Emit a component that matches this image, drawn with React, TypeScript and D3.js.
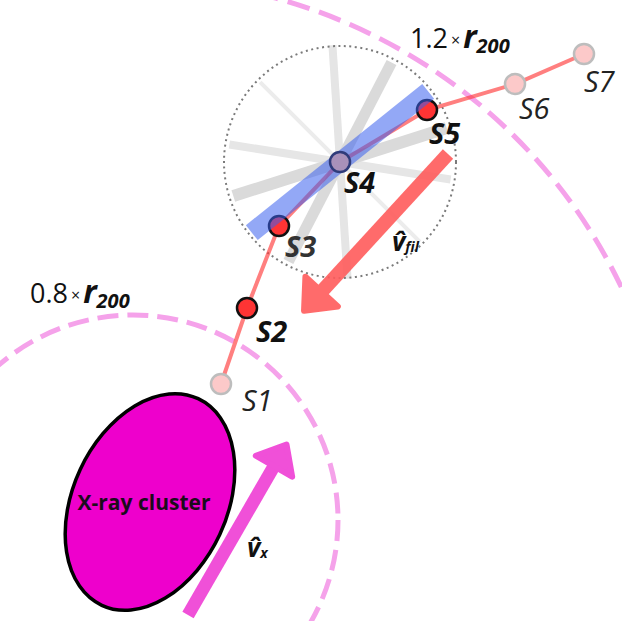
import React from "react";
import * as d3 from "d3";

// Sky-plane coordinates, cluster-centred, in units of 100 kpc-ish (y up).
const stationNames = ["S1", "S2", "S3", "S4", "S5", "S6", "S7"];
const stationX = [0.88, 1.14, 1.46, 2.07, 2.94, 3.82, 4.51];
const stationY = [1.36, 2.12, 2.94, 3.58, 4.1, 4.36, 4.66];
// "out" = outside the filament aperture, "fil" = inside, "mid" = aperture centre
const stationRole = ["out", "fil", "fil", "mid", "fil", "out", "out"];

// Shells around the cluster
const shellFactors = ["0.8", "1.2"];
const shellRadii = [2.05, 5.41];

// Candidate filament orientations tested around S4 (degrees, counter-clockwise)
const spokeAngles = [93.7, 62.6, 135, 171, 17.7];
const spokeHalfLength = [1.17, 1.12, 1.13, 1.12, 1.12];
const spokeWeights = [8, 11, 4, 8, 12];
const spokeShades = ["#e5e5e5", "#dadada", "#ececec", "#e6e6e6", "#dadada"];

// Best-fit filament axis and search aperture
const filamentAngle = 38.7;
const filamentHalfLength = 1.13;
const apertureRadius = 1.16;

// X-ray cluster footprint
const clusterCenter = [0.17, 0.18];
const clusterAxes = [1.14, 0.77];
const clusterTilt = 25;

// Unit vectors drawn as arrows: [tailX, tailY, tipX, tipY]
const filamentVector = [3.15, 3.66, 1.69, 2.07];
const clusterVector = [0.55, -0.95, 1.55, 0.78];

const W = 622;
const H = 621;
const FONT = "'Open Sans', 'Noto Sans', sans-serif";

const x = d3.scaleLinear().domain([-1.33, 4.89]).range([0, W]);
const y = d3.scaleLinear().domain([-1.01, 5.2]).range([H, 0]);
const unit = x(1) - x(0);

// label placement relative to each station marker (px)
const labelOffsets = [
  [21, 27],
  [9, 34],
  [6, 31],
  [4, 31],
  [2, 34],
  [4, 35],
  [0, 38],
];

function Arrow({ v, color, opacity, shaft, headLen, headHalf }) {
  const [x0, y0, x1, y1] = [x(v[0]), y(v[1]), x(v[2]), y(v[3])];
  const len = Math.hypot(x1 - x0, y1 - y0);
  const ux = (x1 - x0) / len;
  const uy = (y1 - y0) / len;
  const nx = -uy;
  const ny = ux;
  const tx = x1 - ux * 3;
  const ty = y1 - uy * 3;
  const bx = tx - ux * headLen;
  const by = ty - uy * headLen;
  const head = [
    [tx, ty],
    [bx + nx * headHalf, by + ny * headHalf],
    [bx - nx * headHalf, by - ny * headHalf],
  ];
  return (
    <g opacity={opacity}>
      <line
        x1={x0}
        y1={y0}
        x2={bx + ux * 4}
        y2={by + uy * 4}
        stroke={color}
        strokeWidth={shaft}
      />
      <path
        d={d3.line()(head) + "Z"}
        fill={color}
        stroke={color}
        strokeWidth={6}
        strokeLinejoin="round"
      />
    </g>
  );
}

function ShellLabel({ tx, ty, factor }) {
  return (
    <text x={tx} y={ty} fontFamily={FONT} fill="#111">
      <tspan fontSize={27}>{factor}</tspan>
      <tspan fontSize={16} dx={3} dy={-2}>×</tspan>
      <tspan fontSize={32} fontWeight="bold" fontStyle="italic" dx={3} dy={2}>
        r
      </tspan>
      <tspan fontSize={20} fontWeight="bold" fontStyle="italic" dy={5}>
        200
      </tspan>
    </text>
  );
}

function VecLabel({ tx, ty, sub }) {
  return (
    <text x={tx} y={ty} fontFamily={FONT} fill="#111" fontWeight="bold" fontStyle="italic">
      <tspan fontSize={26}>{"v\u0302"}</tspan>
      <tspan fontSize={14} dy={1}>
        {sub}
      </tspan>
    </text>
  );
}

export default function App() {
  const pts = stationNames.map((n, i) => ({
    name: n,
    role: stationRole[i],
    px: x(stationX[i]),
    py: y(stationY[i]),
  }));
  const mid = pts[stationRole.indexOf("mid")];
  const path = d3
    .line<{ px: number; py: number }>()
    .x((d) => d.px)
    .y((d) => d.py)(pts);

  const seg = (angle, half) => {
    const a = (angle * Math.PI) / 180;
    const dx = Math.cos(a) * half * unit;
    const dy = -Math.sin(a) * half * unit;
    return { x1: mid.px - dx, y1: mid.py - dy, x2: mid.px + dx, y2: mid.py + dy };
  };

  const marker = (p) => {
    const fill =
      p.role === "fil" ? "#ff3434" : p.role === "mid" ? "#a991ba" : "#fcc9c9";
    const stroke =
      p.role === "fil" ? "#111" : p.role === "mid" ? "#2f3b7a" : "#bdbdbd";
    return (
      <circle
        key={p.name}
        cx={p.px}
        cy={p.py}
        r={10}
        fill={fill}
        stroke={stroke}
        strokeWidth={2.5}
      />
    );
  };

  const cx = x(clusterCenter[0]);
  const cy = y(clusterCenter[1]);

  return (
    <svg
      width={W}
      height={H}
      style={{ position: "absolute", left: 0, top: 0, background: "#fff" }}
    >
      {/* r200 shells */}
      {shellRadii.map((r, i) => (
        <circle
          key={shellFactors[i]}
          cx={x(0)}
          cy={y(0)}
          r={r * unit}
          fill="none"
          stroke="#f5a2ea"
          strokeWidth={5}
          strokeDasharray={i === 0 ? "21 9" : "23 10"}
        />
      ))}

      {/* orientation spokes */}
      {spokeAngles.map((a, i) => (
        <line
          key={a}
          {...seg(a, spokeHalfLength[i])}
          stroke={spokeShades[i]}
          strokeWidth={spokeWeights[i]}
        />
      ))}

      {/* aperture */}
      <circle
        cx={mid.px}
        cy={mid.py}
        r={apertureRadius * unit}
        fill="none"
        stroke="#7a7a7a"
        strokeWidth={2}
        strokeDasharray="2 3.5"
      />

      {/* station track */}
      <path
        d={path}
        fill="none"
        stroke="#ff3b3b"
        strokeOpacity={0.65}
        strokeWidth={4}
      />
      {pts.filter((p) => p.role !== "mid").map(marker)}

      {/* fitted filament axis */}
      <line
        {...seg(filamentAngle, filamentHalfLength)}
        stroke="#3b60ef"
        strokeOpacity={0.55}
        strokeWidth={19}
      />
      {marker(mid)}

      <Arrow
        v={filamentVector}
        color="#ff5c5c"
        opacity={0.9}
        shaft={14}
        headLen={26}
        headHalf={22}
      />

      {/* X-ray cluster */}
      <ellipse
        cx={cx}
        cy={cy}
        rx={clusterAxes[1] * unit}
        ry={clusterAxes[0] * unit}
        transform={`rotate(${clusterTilt}, ${cx}, ${cy})`}
        fill="#ee00cc"
        stroke="#000"
        strokeWidth={3.5}
      />
      <text
        x={cx - 6}
        y={cy + 8}
        textAnchor="middle"
        fontFamily={FONT}
        fontWeight="bold"
        fontSize={21}
        fill="#1b0b1b"
      >
        X-ray cluster
      </text>

      <Arrow
        v={clusterVector}
        color="#f050d8"
        opacity={1}
        shaft={13}
        headLen={25}
        headHalf={21}
      />

      {/* station labels */}
      {pts.map((p, i) => (
        <text
          key={"l" + p.name}
          x={p.px + labelOffsets[i][0]}
          y={p.py + labelOffsets[i][1]}
          fontFamily={FONT}
          fontSize={29}
          fontStyle="italic"
          fontWeight={p.role === "out" ? "normal" : "bold"}
          fill={p.name === "S3" ? "#333" : p.role === "out" ? "#222" : "#111"}
        >
          {p.name}
        </text>
      ))}

      <ShellLabel tx={410} ty={48} factor={shellFactors[1]} />
      <ShellLabel tx={30} ty={303} factor={shellFactors[0]} />

      <VecLabel tx={392} ty={251} sub="fil" />
      <VecLabel tx={247} ty={557} sub="x" />
    </svg>
  );
}
